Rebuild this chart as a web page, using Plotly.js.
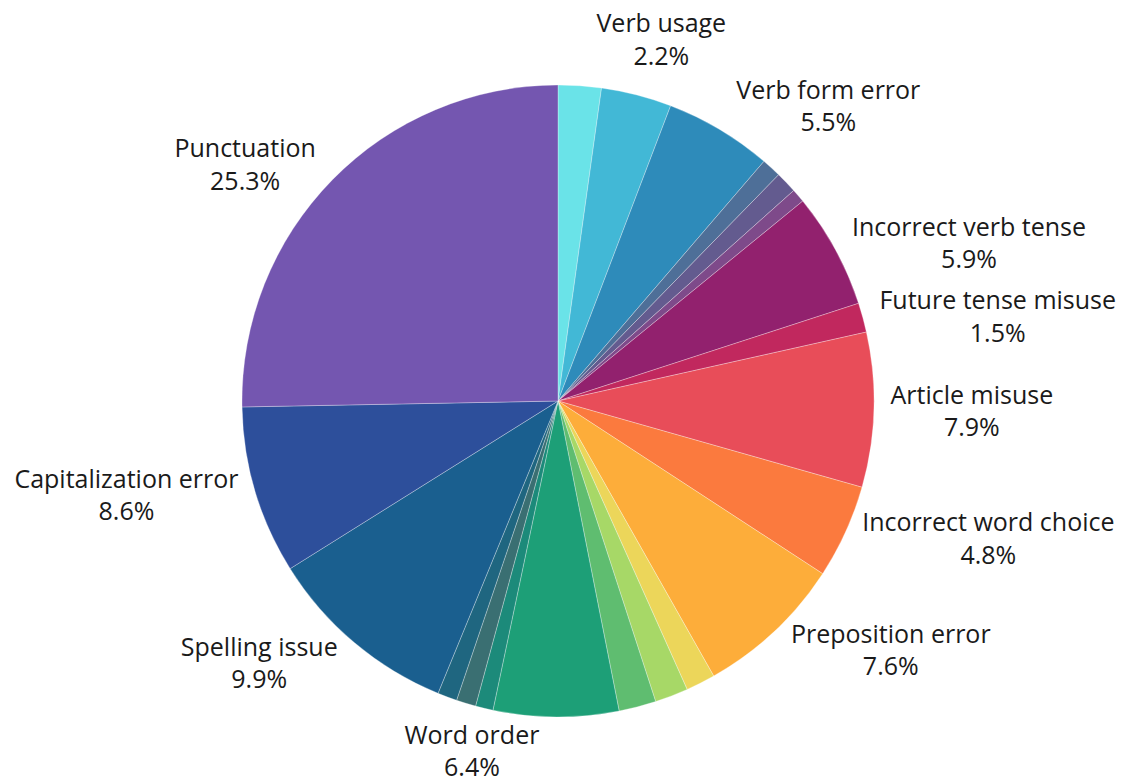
<!DOCTYPE html>
<html>
<head>
<meta charset="utf-8">
<script src="https://cdn.plot.ly/plotly-3.0.1.min.js"></script>
<style>html,body{margin:0;padding:0;background:#fff;}#chart{width:1132px;height:783px;}
#chart path.textline{display:none;}</style>
</head>
<body>
<div id="chart"></div>
<script>
// Slices in clockwise order from 12 o'clock
const categories = [
  "Verb usage", "Other verb issue A", "Verb form error", "Other verb issue B", "Other verb issue C", "Other verb issue D",
  "Incorrect verb tense", "Future tense misuse", "Article misuse", "Incorrect word choice", "Preposition error",
  "Other error A", "Other error B", "Other error C", "Word order", "Other error D", "Other error E", "Other error F",
  "Spelling issue", "Capitalization error", "Punctuation"
];
const values = [
  2.2, 3.6, 5.5, 1.0, 1.1, 0.7,
  5.9, 1.5, 7.9, 4.8, 7.6,
  1.5, 1.7, 1.9, 6.4, 0.9, 1.0, 1.0,
  9.9, 8.6, 25.3
];
const showLabel = [
  true, false, true, false, false, false,
  true, true, true, true, true,
  false, false, false, true, false, false, false,
  true, true, true
];
const colors = [
  "#6ae3e8", "#42b8d6", "#2e8bba", "#4e6f98", "#635b8f", "#7e4a8a",
  "#92216e", "#c1285e", "#e84d59", "#fb7a3e", "#fdad3a",
  "#ecd65a", "#a7d867", "#5fbd70", "#1d9f77", "#1c8a7a", "#3a6f72", "#1f6680",
  "#1a5f8f", "#2d4f9b", "#7456b0"
];

const trace = {
  type: "pie",
  labels: categories,
  values: values,
  sort: false,
  direction: "clockwise",
  rotation: 0,
  marker: { colors: colors, line: { color: "rgba(255,255,255,0.5)", width: 0.6 } },
  texttemplate: showLabel.map(s => s ? "%{label}<br>%{percent:.1%}" : ""),
  textposition: "outside",
  textfont: { family: "'Open Sans', sans-serif", size: 25, color: "#1a1a1a" },
  hoverinfo: "label+percent",
  showlegend: false
};

const layout = {
  width: 1132,
  height: 783,
  margin: { l: 0, r: 16, t: 85, b: 66 },
  paper_bgcolor: "#ffffff",
  plot_bgcolor: "#ffffff",
  showlegend: false
};

Plotly.newPlot("chart", [trace], layout, { displayModeBar: false, staticPlot: true });
</script>
</body>
</html>
